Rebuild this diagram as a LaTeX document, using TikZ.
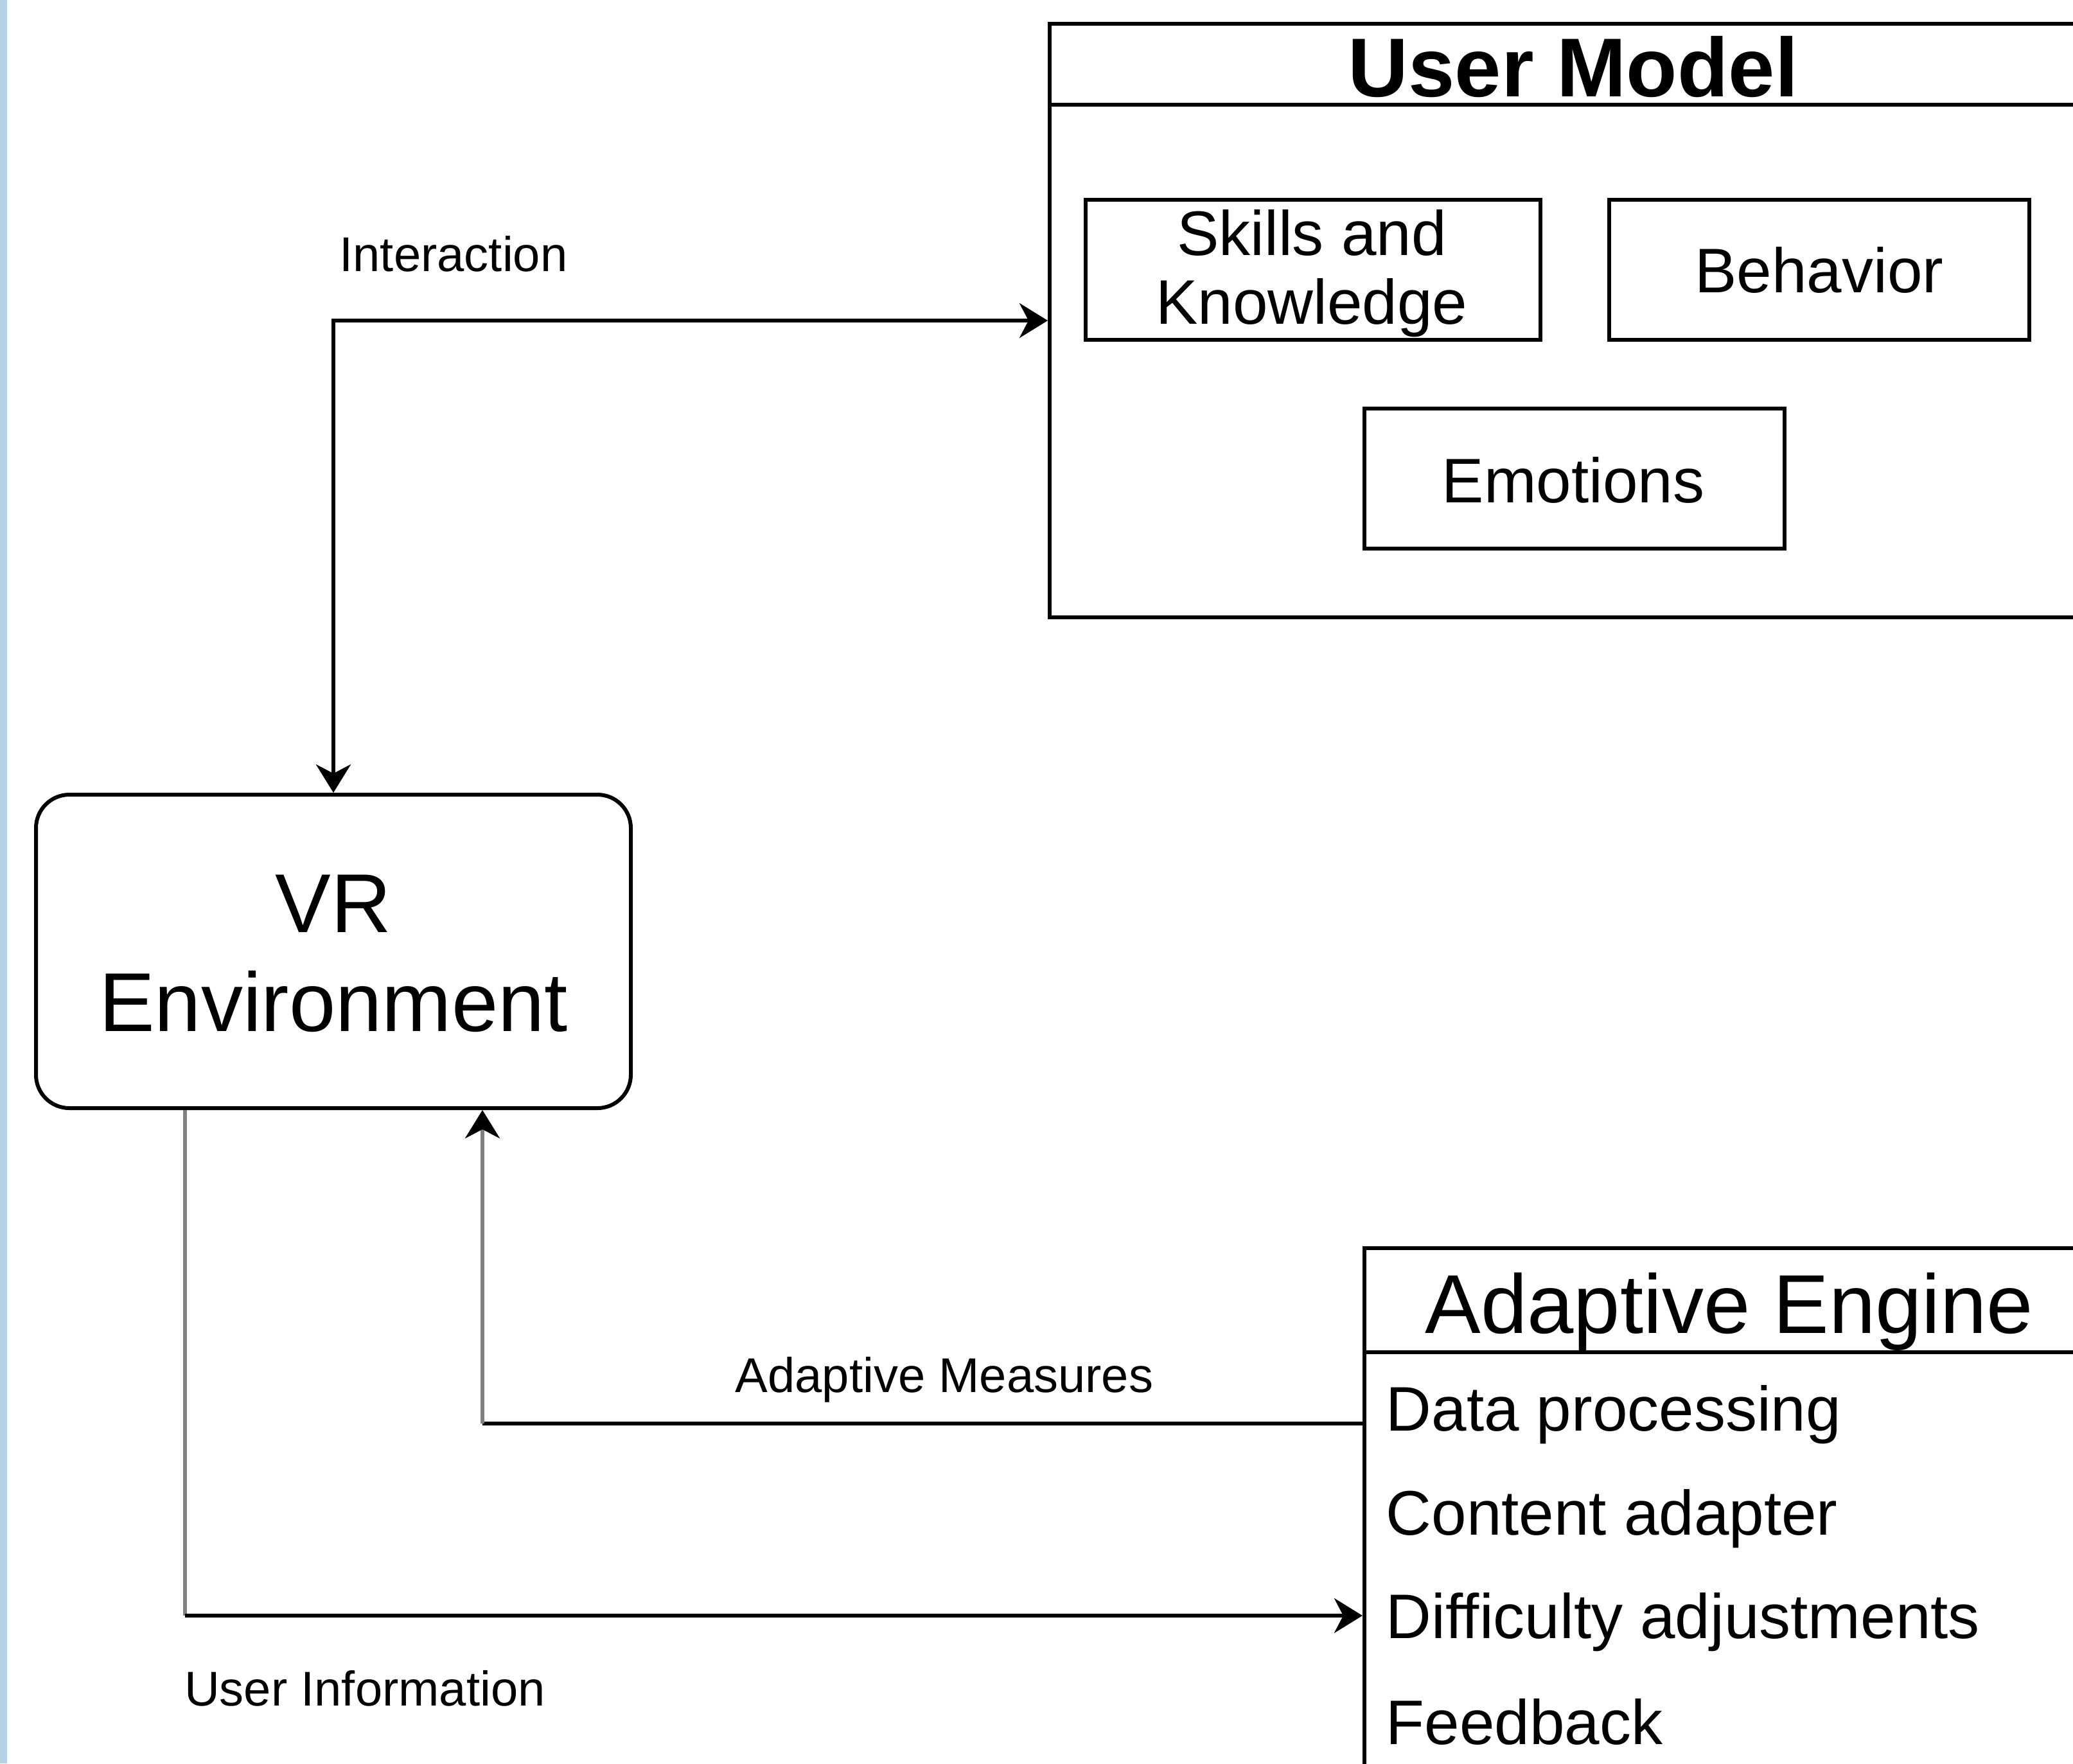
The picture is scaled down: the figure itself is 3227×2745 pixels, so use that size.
\documentclass[tikz,border=0pt]{standalone}
\usepackage{fontspec}
\setmainfont{Liberation Sans}
\usetikzlibrary{arrows.meta}
\definecolor{barblue}{RGB}{180,211,229}
\definecolor{linegray}{RGB}{128,128,128}
\begin{document}
\begin{tikzpicture}[x=0.25pt,y=-0.25pt,
  box/.style={draw=black,line width=1.5pt,inner sep=0pt,fill=none},
  big/.style={font=\fontsize{32.5pt}{38pt}\selectfont},
  mid/.style={font=\fontsize{24.5pt}{27pt}\selectfont},
  small/.style={font=\fontsize{19pt}{22pt}\selectfont},
  txt/.style={inner sep=0pt,anchor=base},
  conn/.style={line width=1.5pt},
  tip/.style={-{Stealth[length=11pt,width=13.5pt,inset=3.5pt,color=black]}}
]
\useasboundingbox (0,0) rectangle (3227,2745);
\clip (0,0) rectangle (3227,2745);
\fill[barblue] (0,0) rectangle (11,2745);

% User Model
\node[box,minimum width=407.5pt,minimum height=231pt] (um) at (2449,499) {};
\draw[conn] (1634,163) -- (3300,163);
\node[txt,big,font=\bfseries\fontsize{32.5pt}{38pt}\selectfont] (umt) at (2449,150) {User Model};
\node[box,minimum width=177pt,minimum height=54.5pt] (sk) at (2044,420) {};
\node[txt,mid,align=center] (skt) at (2042,397) {Skills and};
\node[txt,mid] (skt2) at (2042,504) {Knowledge};
\node[box,minimum width=163.5pt,minimum height=54.5pt] (beh) at (2832,420) {};
\node[txt,mid] (beht) at (2832,455) {Behavior};
\node[box,minimum width=163.5pt,minimum height=54.5pt] (emo) at (2451,745) {};
\node[txt,mid] (emot) at (2449,782) {Emotions};

% VR Environment
\node[box,rounded corners=13pt,minimum width=231.5pt,minimum height=122pt] (vr) at (519,1481) {};
\node[txt,big] (vrt1) at (519,1451) {VR};
\node[txt,big] (vrt2) at (519,1605) {Environment};

% Adaptive Engine
\node[box,minimum width=284pt,minimum height=214.25pt] (ae) at (2692,2371.5) {};
\draw[conn] (2124,2105) -- (3300,2105);
\node[txt,big] (aet) at (2692,2075) {Adaptive Engine};
\node[txt,mid,anchor=base west] (i1) at (2157,2227) {Data processing};
\node[txt,mid,anchor=base west] (i2) at (2157,2389) {Content adapter};
\node[txt,mid,anchor=base west] (i3) at (2157,2550) {Difficulty adjustments};
\node[txt,mid,anchor=base west] (i4) at (2157,2715) {Feedback};

% Connectors
\draw[conn,{Stealth[length=11pt,width=13.5pt,inset=3.5pt]}-{Stealth[length=11pt,width=13.5pt,inset=3.5pt]}] (vr.north) |- (um.west);
\node[txt,small] (lint) at (706,422) {Interaction};

\coordinate (amc) at (751,2216);
\draw[conn] (ae.west |- amc) -- (amc);
\draw[conn,linegray,tip] (amc) -- ([xshift=58pt]vr.south);
\node[txt,small] (lam) at (1470,2167) {Adaptive Measures};

\coordinate (uic) at (288,2515);
\draw[conn,linegray] ([xshift=-57.75pt]vr.south) -- (uic);
\draw[conn,tip] (uic) -- (ae.west |- uic);
\node[txt,small] (lui) at (568,2655) {User Information};
\end{tikzpicture}
\end{document}
